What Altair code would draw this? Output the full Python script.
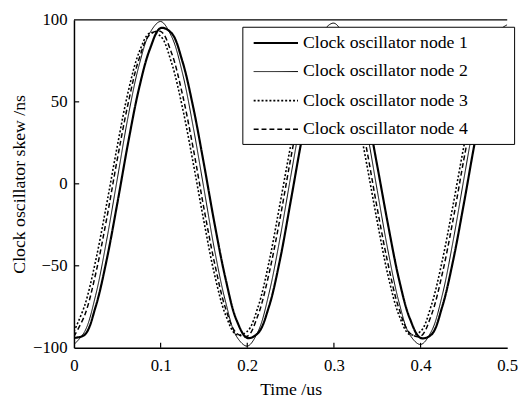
import altair as alt
import pandas as pd

nodes = ["Clock oscillator node 1", "Clock oscillator node 2",
         "Clock oscillator node 3", "Clock oscillator node 4"]

# sample times (us), step 0.0125
times = [round(i * 0.0125, 4) for i in range(41)]

node1 = [-94, -92, -75, -47, -12, 25, 58, 82, 95, 92, 75, 47, 12, -25, -58, -83,
         -94, -91, -75, -47, -11, 26, 59, 83, 94, 91, 74, 46, 11, -25, -58, -82,
         -94, -92, -75, -47, -12, 25, 58, 82, 94]
node2 = [-98, -90, -68, -35, 3, 41, 72, 92, 99, 90, 68, 35, -3, -41, -72, -93,
         -99, -90, -67, -34, 4, 41, 73, 93, 98, 89, 67, 34, -4, -41, -72, -92,
         -98, -90, -68, -35, 3, 40, 72, 92, 97]
node3 = [-90, -74, -47, -13, 23, 56, 80, 92, 90, 74, 47, 13, -23, -56, -80, -92,
         -90, -75, -48, -13, 23, 56, 80, 92, 90, 74, 47, 13, -23, -56, -80, -92,
         -90, -74, -47, -13, 23, 56, 80, 92, 90]
node4 = [-93, -80, -55, -22, 15, 49, 76, 91, 93, 80, 55, 22, -15, -49, -76, -91,
         -93, -80, -55, -22, 15, 49, 76, 91, 93, 80, 55, 22, -15, -49, -76, -91,
         -93, -80, -55, -22, 15, 49, 76, 91, 93]

x_ticks = [0, 0.1, 0.2, 0.3, 0.4, 0.5]
y_ticks = [-100, -50, 0, 50, 100]
x_inner_ticks = [0.1, 0.2, 0.3, 0.4]
y_inner_ticks = [-50, 0, 50]

rows = []
for name, vals in zip(nodes, [node1, node2, node3, node4]):
    for t, v in zip(times, vals):
        rows.append({"t": t, "v": v, "node": name})
df = pd.DataFrame(rows)

FONT = "Liberation Serif"
FS = 18
TFS = 17
x_scale = alt.Scale(domain=[0, 0.5], nice=False, zero=False)
y_scale = alt.Scale(domain=[-100, 100], nice=False, zero=False)

pad_tail = "\u00a0" * 9 + "\u200b"
legend = alt.Legend(
    title=None, orient="none", legendX=171, legendY=7,
    symbolType="M-2.5,0H2.5", symbolSize=324, symbolOffset=17.5,
    labelOffset=17, labelFont=FONT, labelFontSize=FS, labelColor="black",
    rowPadding=10, padding=6, fillColor="white", strokeColor="black",
    labelExpr=f"datum.label + '{pad_tail}'", symbolStrokeColor="black",
    labelLimit=400,
)

x_axis = alt.Axis(values=x_ticks, format=".1~f", ticks=False, grid=False,
                  domainColor="black", domainWidth=1.5, labelFont=FONT,
                  labelFontSize=TFS, labelColor="black", labelPadding=10,
                  labelFlush=False, title="Time /us", titleFont=FONT,
                  titleFontSize=FS, titleFontWeight="normal",
                  titleColor="black", titlePadding=7)
y_axis = alt.Axis(values=y_ticks, ticks=False, grid=False,
                  domainColor="black", domainWidth=1.5, labelFont=FONT,
                  labelFontSize=TFS, labelColor="black", labelPadding=7,
                  labelFlush=False, title="Clock oscillator skew /ns",
                  titleFont=FONT, titleFontSize=FS, titleFontWeight="normal",
                  titleColor="black", titlePadding=4)

lines = alt.Chart(df).mark_line(interpolate="catmull-rom", color="black", clip=True).encode(
    x=alt.X("t:Q", scale=x_scale, axis=x_axis),
    y=alt.Y("v:Q", scale=y_scale, axis=y_axis),
    strokeDash=alt.StrokeDash("node:N", scale=alt.Scale(type="ordinal", domain=nodes, range=[[1, 0], [1, 0], [2, 2], [5, 3]]), legend=legend),
    strokeWidth=alt.StrokeWidth("node:N", scale=alt.Scale(type="ordinal", domain=nodes, range=[2.2, 1.0, 1.6, 1.5]), legend=legend),
)

xt = pd.DataFrame({"t": x_inner_ticks, "y0": [-100] * 4, "y1": [-97] * 4})
xtick_rules = alt.Chart(xt).mark_rule(color="black", strokeWidth=1.2).encode(
    x=alt.X("t:Q", scale=x_scale), y=alt.Y("y0:Q", scale=y_scale), y2="y1:Q")

yt = pd.DataFrame({"v": y_inner_ticks, "x0": [0] * 3, "x1": [0.006] * 3})
ytick_rules = alt.Chart(yt).mark_rule(color="black", strokeWidth=1.2).encode(
    y=alt.Y("v:Q", scale=y_scale), x=alt.X("x0:Q", scale=x_scale), x2="x1:Q")

top = pd.DataFrame({"x0": [0], "x1": [0.5], "y": [100]})
top_rule = alt.Chart(top).mark_rule(color="black", strokeWidth=1.5).encode(
    x=alt.X("x0:Q", scale=x_scale), x2="x1:Q", y=alt.Y("y:Q", scale=y_scale))

chart = alt.layer(lines, xtick_rules, ytick_rules, top_rule).properties(
    width=440, height=333,
    autosize=alt.AutoSizeParams(type="none"),
    padding={"left": 67, "top": 9, "right": 14, "bottom": 50},
    background="white",
).configure_view(stroke=None)

chart.save("out.html", embed_options={"renderer": "svg", "actions": False})
